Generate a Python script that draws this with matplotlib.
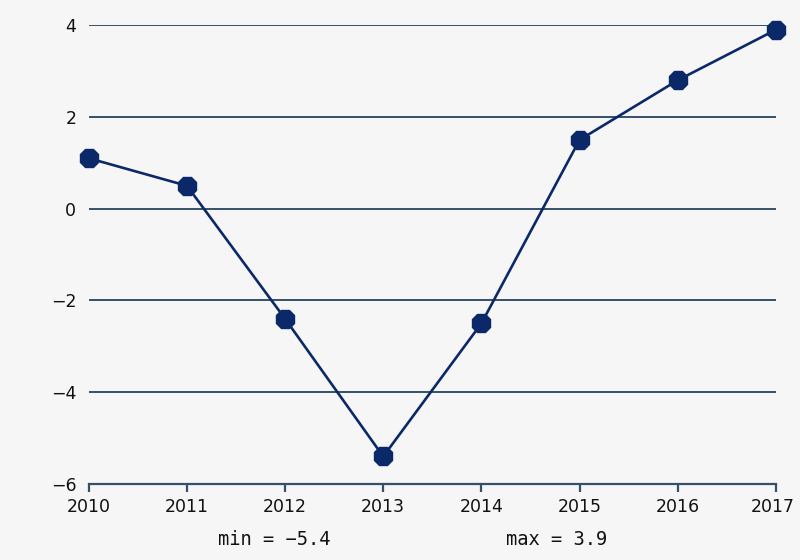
import matplotlib
matplotlib.use("Agg")
import matplotlib.pyplot as plt
import matplotlib.transforms as mtransforms

# data
years = [2010, 2011, 2012, 2013, 2014, 2015, 2016, 2017]
values = [1.1, 0.5, -2.4, -5.4, -2.5, 1.5, 2.8, 3.9]
y_ticks = [-6, -4, -2, 0, 2, 4]
min_label = "min = -5.4"
max_label = "max = 3.9"

bg = "#f6f6f6"
grid_col = "#34506a"
line_col = "#0b2868"

fig = plt.figure(figsize=(8, 5.6), dpi=100, facecolor=bg)
ax = fig.add_axes([0.111, 0.1357, 0.8588, 0.8193], facecolor=bg)

ax.set_xlim(years[0], years[-1])
ax.set_ylim(-6, 4)

# horizontal grid lines
for t in y_ticks[1:]:
    ax.axhline(t, color=grid_col, lw=1.4, zorder=1)

ax.plot(years, values, color=line_col, lw=1.9, marker="8", markersize=14,
        markerfacecolor=line_col, markeredgecolor=line_col, clip_on=False, zorder=3)

for s in ["top", "right", "left"]:
    ax.spines[s].set_visible(False)
ax.spines["bottom"].set_color(grid_col)
ax.spines["bottom"].set_linewidth(1.6)

ax.set_xticks(years)
ax.set_xticklabels([str(y) for y in years])
ax.set_yticks(y_ticks)
ax.tick_params(axis="x", length=6, width=1.6, color=grid_col, labelsize=12.5,
               labelcolor="#111111", pad=4)
ax.tick_params(axis="y", length=0, labelsize=12.5, labelcolor="#111111", pad=9)
ax.set_yticklabels(["\u22126", "\u22124", "\u22122", "0", "2", "4"])

# keep the last year label inside the picture
last = ax.get_xticklabels()[-1]
last.set_transform(last.get_transform() + mtransforms.ScaledTranslation(-3 / 100, 0, fig.dpi_scale_trans))

fig.text(0.3425, 0.036, min_label.replace("-", "\u2212"), family="DejaVu Sans Mono",
         fontsize=13.5, ha="center", va="center", color="#111111")
fig.text(0.696, 0.036, max_label, family="DejaVu Sans Mono",
         fontsize=13.5, ha="center", va="center", color="#111111")

fig.savefig("out.png", dpi=100, facecolor=bg)
